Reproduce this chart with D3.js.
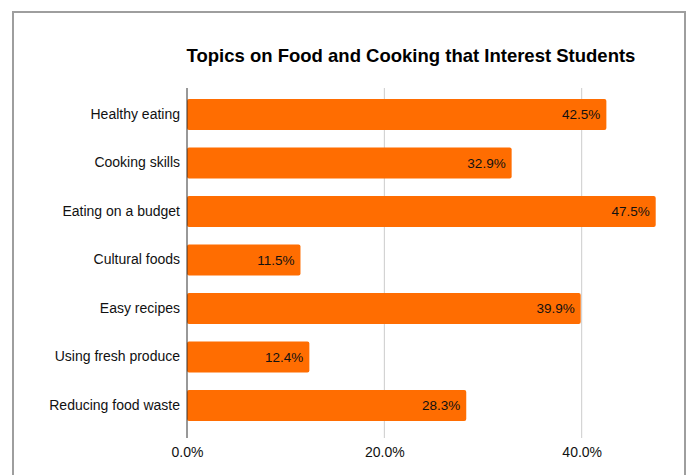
<!DOCTYPE html>
<html><head><meta charset="utf-8">
<script src="https://cdn.jsdelivr.net/npm/d3@7"></script>
<style>body{margin:0;background:#fff;} svg{display:block;font-family:"Liberation Sans",Arial,sans-serif;}</style>
</head><body>
<svg id="c" width="689" height="475"></svg>
<script>
const categories = ["Healthy eating","Cooking skills","Eating on a budget","Cultural foods","Easy recipes","Using fresh produce","Reducing food waste"];
const values = [42.5, 32.9, 47.5, 11.5, 39.9, 12.4, 28.3];
const tickValues = [0, 20, 40];
const title = "Topics on Food and Cooking that Interest Students";

const svg = d3.select("#c");
// outer border (open at the bottom)
svg.append("path").attr("d","M13,475 V12 H685 V475").attr("fill","none").attr("stroke","#9e9e9e").attr("stroke-width",2);

const x = d3.scaleLinear().domain([0,40]).range([187,581.7]);
const y = d3.scaleBand().domain(categories).range([90.25,429.75]).paddingInner(0.36).paddingOuter(0.18);

svg.append("text").attr("x",411).attr("y",62).attr("text-anchor","middle")
  .attr("font-size",18.5).attr("font-weight","bold").attr("fill","#000").text(title);

// gridlines
svg.append("g").selectAll("line").data(tickValues.filter(d=>d>0)).join("line")
  .attr("x1",d=>x(d)).attr("x2",d=>x(d)).attr("y1",88).attr("y2",438)
  .attr("stroke","#cccccc").attr("stroke-width",1);

// bars
svg.append("g").selectAll("rect").data(values).join("rect")
  .attr("x",x(0)).attr("y",(d,i)=>y(categories[i]))
  .attr("width",d=>x(d)-x(0)).attr("height",y.bandwidth())
  .attr("rx",2).attr("fill","#ff6d01");

// value labels
svg.append("g").selectAll("text").data(values).join("text")
  .attr("x",d=>x(d)-6).attr("y",(d,i)=>y(categories[i])+y.bandwidth()/2)
  .attr("dy","0.35em").attr("text-anchor","end").attr("font-size",13.5).attr("fill","#111")
  .text(d=>d.toFixed(1)+"%");

// category axis
const yAxis = d3.axisLeft(y).tickSize(0).tickPadding(7);
const gy = svg.append("g").attr("transform",`translate(${x(0)},0)`).call(yAxis);
gy.select(".domain").remove();
gy.selectAll("text").attr("font-size",14).attr("fill","#111").attr("font-family","Liberation Sans, Arial, sans-serif");

svg.append("line").attr("x1",x(0)).attr("x2",x(0)).attr("y1",88).attr("y2",438).attr("stroke","#333").attr("stroke-width",1);

// x axis
const xAxis = d3.axisBottom(x).tickValues(tickValues).tickSize(0).tickPadding(9).tickFormat(d=>d.toFixed(1)+"%");
const gx = svg.append("g").attr("transform","translate(0,438)").call(xAxis);
gx.select(".domain").remove();
gx.selectAll("text").attr("font-size",14).attr("fill","#111").attr("font-family","Liberation Sans, Arial, sans-serif");
</script>
</body></html>
